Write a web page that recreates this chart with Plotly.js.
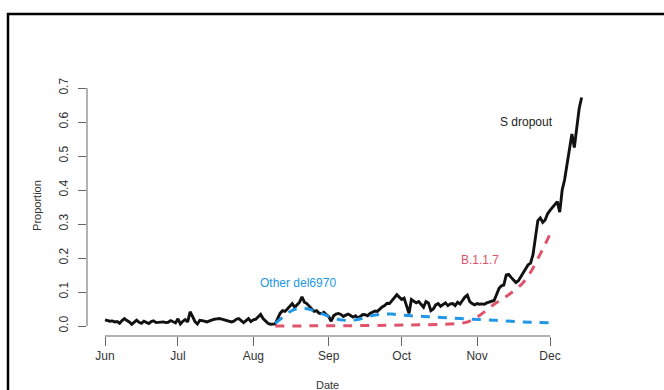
<!DOCTYPE html>
<html>
<head>
<meta charset="utf-8">
<script src="https://cdn.plot.ly/plotly-3.0.1.min.js"></script>
<style>
  html, body { margin: 0; padding: 0; background: #fff; }
  #chart { width: 664px; height: 390px; }
</style>
</head>
<body>
<div id="chart"></div>
<script>
// Daily proportion of S-gene dropout, starting 1 June 2020
const sDropoutStart = '2020-06-01';
const sDropout = [
  0.018, 0.015, 0.014, 0.015, 0.012, 0.013, 0.008, 0.016, 0.022, 0.016,
  0.012, 0.005, 0.012, 0.017, 0.011, 0.008, 0.014, 0.011, 0.007, 0.013,
  0.015, 0.010, 0.011, 0.013, 0.012, 0.010, 0.011, 0.016, 0.012, 0.009,
  0.021, 0.006, 0.014, 0.019, 0.012, 0.042, 0.028, 0.013, 0.006, 0.017,
  0.016, 0.014, 0.012, 0.015, 0.018, 0.020, 0.021, 0.022, 0.020, 0.018,
  0.017, 0.015, 0.012, 0.014, 0.020, 0.022, 0.016, 0.010, 0.016, 0.022,
  0.013, 0.018, 0.020, 0.028, 0.034, 0.022, 0.014, 0.008, 0.005, 0.005,
  0.006, 0.022, 0.037, 0.045, 0.043, 0.050, 0.058, 0.066, 0.055, 0.062,
  0.070, 0.086, 0.070, 0.066, 0.058, 0.050, 0.043, 0.045, 0.038, 0.036,
  0.040, 0.033, 0.028, 0.014, 0.030, 0.035, 0.037, 0.034, 0.028, 0.032,
  0.035, 0.031, 0.026, 0.030, 0.024, 0.028, 0.034, 0.033, 0.030, 0.037,
  0.040, 0.044, 0.043, 0.050, 0.056, 0.060, 0.067, 0.066, 0.075, 0.085,
  0.092, 0.085, 0.078, 0.082, 0.060, 0.037, 0.078, 0.073, 0.068, 0.072,
  0.064, 0.055, 0.072, 0.068, 0.045, 0.050, 0.062, 0.066, 0.058, 0.062,
  0.068, 0.060, 0.065, 0.066, 0.060, 0.070, 0.065, 0.075, 0.085, 0.091,
  0.072, 0.066, 0.062, 0.066, 0.064, 0.065, 0.064, 0.068, 0.070, 0.072,
  0.075, 0.092, 0.110, 0.118, 0.120, 0.150, 0.152, 0.143, 0.136, 0.128,
  0.133, 0.145, 0.155, 0.168, 0.180, 0.185, 0.210, 0.260, 0.310, 0.318,
  0.305, 0.312, 0.330, 0.340, 0.348, 0.355, 0.366, 0.335, 0.400, 0.430,
  0.480, 0.530, 0.565, 0.525, 0.590, 0.640, 0.672
];

// Fitted proportion of other del69-70 lineages
const otherDates = [
  '2020-08-10', '2020-08-13', '2020-08-16', '2020-08-19', '2020-08-22',
  '2020-08-25', '2020-08-28', '2020-08-31', '2020-09-03', '2020-09-06',
  '2020-09-09', '2020-09-12', '2020-09-15', '2020-09-18', '2020-09-21',
  '2020-09-24', '2020-09-27', '2020-09-30', '2020-10-05', '2020-10-10',
  '2020-10-15', '2020-10-20', '2020-10-25', '2020-10-30', '2020-11-05',
  '2020-11-10', '2020-11-15', '2020-11-20', '2020-11-25', '2020-12-01'
];
const otherDel6970 = [
  0.008, 0.025, 0.042, 0.051, 0.052,
  0.047, 0.040, 0.031, 0.023, 0.018,
  0.016, 0.018, 0.023, 0.029, 0.033,
  0.035, 0.035, 0.033, 0.030, 0.028,
  0.026, 0.024, 0.022, 0.020, 0.018,
  0.016, 0.014, 0.012, 0.011, 0.0095
];

// Fitted proportion of B.1.1.7
const b117Dates = [
  '2020-08-10', '2020-08-25', '2020-09-10', '2020-09-25', '2020-10-05',
  '2020-10-12', '2020-10-18', '2020-10-23', '2020-10-27', '2020-10-30',
  '2020-11-02', '2020-11-05', '2020-11-08', '2020-11-11', '2020-11-14',
  '2020-11-17', '2020-11-20', '2020-11-23', '2020-11-26', '2020-11-29',
  '2020-12-01'
];
const b117 = [
  0.000, 0.0005, 0.001, 0.002, 0.003,
  0.004, 0.005, 0.007, 0.010, 0.018,
  0.031, 0.047, 0.064, 0.078, 0.092,
  0.108, 0.128, 0.158, 0.198, 0.240,
  0.270
];

// Axis ticks
const monthTicks = ['2020-06-01', '2020-07-01', '2020-08-01', '2020-09-01',
                    '2020-10-01', '2020-11-01', '2020-12-01'];
const monthLabels = ['Jun', 'Jul', 'Aug', 'Sep', 'Oct', 'Nov', 'Dec'];
const propTicks = [0, 0.1, 0.2, 0.3, 0.4, 0.5, 0.6, 0.7];
const propLabels = ['0.0', '0.1', '0.2', '0.3', '0.4', '0.5', '0.6', '0.7'];

// Build daily date strings for the S dropout series
function dailyDates(start, n) {
  const out = [];
  const d0 = new Date(start + 'T00:00:00Z');
  for (let i = 0; i < n; i++) {
    const d = new Date(d0.getTime() + i * 86400000);
    out.push(d.toISOString().slice(0, 10));
  }
  return out;
}
const sDates = dailyDates(sDropoutStart, sDropout.length);

const RED = '#DF536B';
const BLUE = '#2297E6';
const FONT = 'Liberation Sans, Arial, Helvetica, sans-serif';
const AXIS = '#666666';

const traces = [
  {
    x: sDates, y: sDropout, type: 'scatter', mode: 'lines',
    line: { color: '#111111', width: 2.9 }, hoverinfo: 'skip'
  },
  {
    x: otherDates, y: otherDel6970, type: 'scatter', mode: 'lines',
    line: { color: BLUE, width: 3, dash: '9px,8px', shape: 'spline', smoothing: 1 },
    hoverinfo: 'skip'
  },
  {
    x: b117Dates, y: b117, type: 'scatter', mode: 'lines',
    line: { color: RED, width: 3, dash: '9px,8px', shape: 'spline', smoothing: 1 },
    hoverinfo: 'skip'
  }
];

const layout = {
  width: 664, height: 390,
  margin: { l: 87, r: 63, t: 78, b: 54 },
  paper_bgcolor: '#ffffff', plot_bgcolor: '#ffffff',
  showlegend: false,
  font: { family: FONT, color: '#333333', size: 12 },
  xaxis: {
    type: 'date',
    range: ['2020-05-24 14:21', '2020-12-21 23:16'],
    tickmode: 'array', tickvals: monthTicks, ticktext: monthLabels,
    ticks: 'outside', ticklen: 9, tickwidth: 1, tickcolor: AXIS,
    showgrid: false, zeroline: false, showline: false,
    tickfont: { family: FONT, size: 12, color: '#333333' }
  },
  yaxis: {
    range: [-0.0294, 0.7294],
    tickmode: 'array', tickvals: propTicks, ticktext: propLabels,
    tickangle: -90,
    ticks: 'outside', ticklen: 8, tickwidth: 1, tickcolor: AXIS,
    ticklabelstandoff: 5,
    showgrid: false, zeroline: false, showline: false,
    tickfont: { family: FONT, size: 12, color: '#333333' }
  },
  shapes: [
    // y axis line spanning the tick range
    { type: 'line', xref: 'paper', yref: 'y', x0: 0, x1: 0, y0: 0, y1: 0.7,
      line: { color: AXIS, width: 1 } },
    // x axis line spanning the tick range
    { type: 'line', xref: 'x', yref: 'paper', x0: '2020-06-01', x1: '2020-12-01', y0: 0, y1: 0,
      line: { color: AXIS, width: 1 } },
    // outer figure frame
    { type: 'rect', xref: 'paper', yref: 'paper', x0: -0.1537, x1: 1.5, y0: -0.6, y1: 1.248,
      line: { color: '#000000', width: 2.5 }, fillcolor: 'rgba(0,0,0,0)' }
  ],
  annotations: [
    { text: 'S dropout', x: '2020-11-21 12:00', y: 0.6, xref: 'x', yref: 'y',
      xanchor: 'center', yanchor: 'middle',
      showarrow: false, font: { family: FONT, size: 12, color: '#222222' } },
    { text: 'B.1.1.7', x: '2020-11-02 05:00', y: 0.194, xref: 'x', yref: 'y',
      xanchor: 'center', yanchor: 'middle',
      showarrow: false, font: { family: FONT, size: 12, color: RED } },
    { text: 'Other del6970', x: '2020-08-19 10:00', y: 0.126, xref: 'x', yref: 'y',
      xanchor: 'center', yanchor: 'middle',
      showarrow: false, font: { family: FONT, size: 12, color: BLUE } },
    { text: 'Proportion', x: -0.0973, y: 0.508, xref: 'paper', yref: 'paper',
      xanchor: 'center', yanchor: 'middle',
      textangle: -90, showarrow: false, font: { family: FONT, size: 11, color: '#333333' } },
    { text: 'Date', x: 0.467, y: -0.188, xref: 'paper', yref: 'paper',
      xanchor: 'center', yanchor: 'middle',
      showarrow: false, font: { family: FONT, size: 11, color: '#333333' } }
  ]
};

Plotly.newPlot('chart', traces, layout, { staticPlot: true, displayModeBar: false });
</script>
</body>
</html>
